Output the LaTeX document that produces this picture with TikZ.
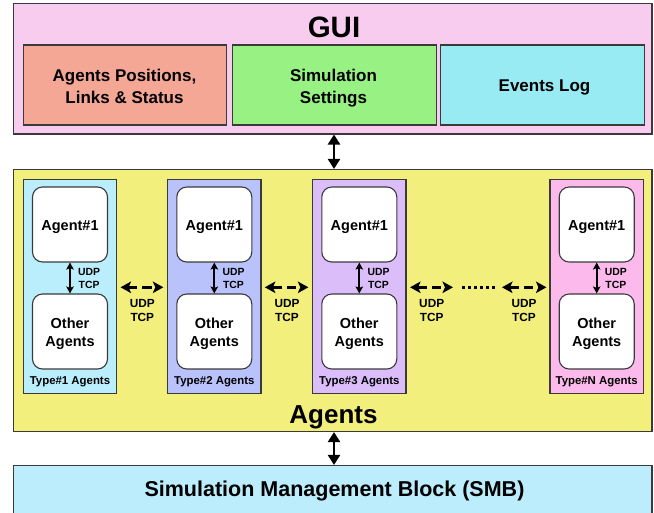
\documentclass[tikz,border=0pt]{standalone}
\usepackage{fontspec}
\setmainfont{Liberation Sans}
\usetikzlibrary{arrows.meta}
\definecolor{guibg}{HTML}{F8CCEE}
\definecolor{salmon}{HTML}{F4A794}
\definecolor{simgreen}{HTML}{98F283}
\definecolor{logcyan}{HTML}{98EAF3}
\definecolor{agbg}{HTML}{F3EF7C}
\definecolor{tone}{HTML}{BAEEFC}
\definecolor{ttwo}{HTML}{BAC2FC}
\definecolor{tthree}{HTML}{DBBDFA}
\definecolor{tn}{HTML}{FCBAEC}
\definecolor{smbbg}{HTML}{BCEDFC}
\definecolor{edge}{HTML}{3A3A3A}
\tikzset{
  box/.style={draw=edge, line width=1.1pt, rectangle, inner sep=0pt},
  typebox/.style={box, minimum width=93.4pt, minimum height=214.3pt},
  agbox/.style={box, fill=white, rounded corners=10pt, minimum width=75pt, minimum height=75pt},
  guibox/.style={box, minimum width=203.5pt, minimum height=80pt},
  txt/.style={inner sep=0pt, align=center, font=\bfseries},
  guitxt/.style={txt, font=\bfseries\fontsize{17}{21.6}\selectfont},
  agtxt/.style={txt, font=\bfseries\fontsize{14.5}{18.4}\selectfont},
  typelabel/.style={txt, anchor=base, font=\bfseries\fontsize{11.4}{13}\selectfont},
  smalllab/.style={txt, anchor=base west, font=\bfseries\fontsize{10.4}{13}\selectfont},
  netlab/.style={txt, font=\bfseries\fontsize{11.8}{14}\selectfont},
  bigarrow/.style={line width=2.3pt, {Triangle[length=10pt,width=12pt]}-{Triangle[length=10pt,width=12pt]}},
  smallarrow/.style={line width=1.8pt, {Stealth[length=7pt,width=7.5pt,inset=1.5pt]}-{Stealth[length=7pt,width=7.5pt,inset=1.5pt]}},
  netarrow/.style={line width=3.2pt, dash pattern=on 9.5pt off 5pt, {Stealth[length=10.5pt,width=11.5pt,inset=2.5pt]}-{Stealth[length=10.5pt,width=11.5pt,inset=2.5pt]}},
  dotline/.style={line width=3pt, dash pattern=on 3pt off 3pt}
}
\begin{document}
\begin{tikzpicture}[x=1pt,y=-1pt]
\useasboundingbox (0,0) rectangle (654,512);
% GUI
\node[box, fill=guibg, minimum width=638.5pt, minimum height=130.5pt] (gui) at (332.75,68.75) {};
\node[txt, anchor=base, font=\bfseries\fontsize{29.5}{32}\selectfont] (guilab) at (334,37) {GUI};
\node[guibox, fill=salmon] (pos) at (125,85) {};
\node[guibox, fill=simgreen] (set) at (334.5,85) {};
\node[guibox, fill=logcyan] (log) at (542.5,85) {};
\node[guitxt] (postxt) at (124.5,86.4) {Agents Positions,\\Links \& Status};
\node[guitxt] (settxt) at (333.5,88.1) {Simulation\\Settings};
\node[guitxt, anchor=base] (logtxt) at (544.5,91) {Events Log};
% Agents
\node[box, fill=agbg, minimum width=638.5pt, minimum height=262pt] (agents) at (332.75,300.5) {};
\node[txt, anchor=base, font=\bfseries\fontsize{26}{28}\selectfont] (aglab) at (333.5,423) {Agents};
% SMB
\node[box, fill=smbbg, minimum width=638.5pt, minimum height=60pt] (smb) at (332.75,495.5) {};
\node[txt, anchor=base, font=\bfseries\fontsize{21.5}{24}\selectfont] (smblab) at (334.5,496.7) {Simulation Management Block (SMB)};
% arrows between main blocks
\draw[bigarrow] (gui.south -| 334,0) -- (agents.north -| 334,0);
\draw[bigarrow] (agents.south -| 334,0) -- (smb.north -| 334,0);
% type boxes
\foreach \n/\cx/\col/\lab in {1/70/tone/Type\#1 Agents, 2/214.3/ttwo/Type\#2 Agents, 3/359.3/tthree/Type\#3 Agents, N/596.7/tn/Type\#N Agents}{
  \node[typebox, fill=\col] (t\n) at (\cx,286.2) {};
  \node[agbox] (a\n) at (\cx,224.5) {};
  \node[agbox] (o\n) at (\cx,331.5) {};
  \node[agtxt, anchor=base] (at\n) at (\cx,230) {Agent\#1};
  \node[agtxt] (ot\n) at (\cx,333.7) {Other\\Agents};
  \node[typelabel] (l\n) at (\cx,384) {\lab};
  \draw[smallarrow] (a\n.south) -- (o\n.north);
  \node[smalllab] (u\n) at ([xshift=8pt]a\n.south |- 0,275) {UDP};
  \node[smalllab] (c\n) at ([xshift=8.5pt]a\n.south |- 0,288) {TCP};
}
% network arrows
\coordinate (d1) at (462,287.3);
\coordinate (d2) at (497,287.3);
\draw[netarrow, shorten <=3.3pt, shorten >=3.7pt] (t1.east |- 0,287.3) -- (t2.west |- 0,287.3);
\draw[netarrow, shorten <=3.3pt, shorten >=3.7pt] (t2.east |- 0,287.3) -- (t3.west |- 0,287.3);
\draw[netarrow, shorten <=3.5pt, shorten >=9pt] (t3.east |- 0,287.3) -- (d1);
\draw[dotline] (d1) -- (d2);
\draw[netarrow, shorten <=5pt, shorten >=3pt] (d2) -- (tN.west |- 0,287.3);
\node[netlab] (n1) at (142.3,310.8) {UDP\\TCP};
\node[netlab] (n2) at (287,310.8) {UDP\\TCP};
\node[netlab] (n3) at (431.7,310.8) {UDP\\TCP};
\node[netlab] (n4) at (524,310.8) {UDP\\TCP};
\end{tikzpicture}
\end{document}
